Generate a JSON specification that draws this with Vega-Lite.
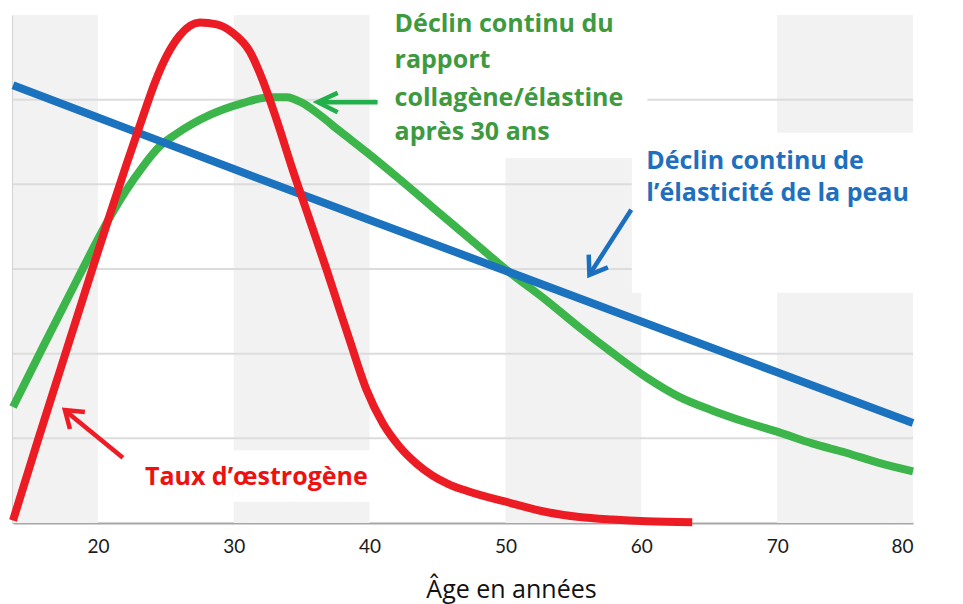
{
  "$schema": "https://vega.github.io/schema/vega-lite/v6.json",
  "width": 900,
  "height": 508,
  "autosize": {"type": "none"},
  "padding": {"left": 13, "top": 15, "right": 50, "bottom": 81},
  "background": "white",
  "config": {
    "view": {"stroke": null},
    "font": "Lato",
    "axisX": {"domainColor": "#a6a6a6", "domainWidth": 2, "ticks": false, "grid": false, "labelFont": "Lato", "labelFontSize": 19, "labelColor": "#1a1a1a", "labelPadding": 14, "titleFont": "Open Sans", "titleFontSize": 25, "titleFontWeight": "normal", "titleColor": "#111111", "titleX": 498, "titleY": 74, "titleBaseline": "alphabetic", "titleAlign": "center"},
    "axisY": {"domainColor": "#a6a6a6", "domainWidth": 2, "ticks": false, "grid": false, "labels": false}
  },
  "datasets": {
    "bands": [
      {"x0": 13.75, "x1": 20, "y0": 0, "y1": 6},
      {"x0": 30, "x1": 40, "y0": 0, "y1": 6},
      {"x0": 50, "x1": 60, "y0": 0, "y1": 6},
      {"x0": 70, "x1": 80, "y0": 0, "y1": 6}
    ],
    "grid": [{"v": 1}, {"v": 2}, {"v": 3}, {"v": 4}, {"v": 5}],
    "boxes": [
      {"x0": 40.5, "x1": 60.45, "y0": 4.31, "y1": 6},
      {"x0": 59.3, "x1": 80, "y0": 2.72, "y1": 4.61},
      {"x0": 22.5, "x1": 41.5, "y0": 0.25, "y1": 0.86}
    ],
    "curves": [
      {"series": "collagene", "age": 13.75, "value": 1.37},
      {"series": "collagene", "age": 15.96, "value": 2.08},
      {"series": "collagene", "age": 18.46, "value": 2.87},
      {"series": "collagene", "age": 20.88, "value": 3.61},
      {"series": "collagene", "age": 22.13, "value": 3.94},
      {"series": "collagene", "age": 23.31, "value": 4.21},
      {"series": "collagene", "age": 24.56, "value": 4.45},
      {"series": "collagene", "age": 25.81, "value": 4.60},
      {"series": "collagene", "age": 28.24, "value": 4.82},
      {"series": "collagene", "age": 30.66, "value": 4.96},
      {"series": "collagene", "age": 32.65, "value": 5.03},
      {"series": "collagene", "age": 33.9, "value": 5.03},
      {"series": "collagene", "age": 35.07, "value": 4.96},
      {"series": "collagene", "age": 36.32, "value": 4.82},
      {"series": "collagene", "age": 37.79, "value": 4.63},
      {"series": "collagene", "age": 39.78, "value": 4.38},
      {"series": "collagene", "age": 42.21, "value": 4.06},
      {"series": "collagene", "age": 44.63, "value": 3.73},
      {"series": "collagene", "age": 48.09, "value": 3.26},
      {"series": "collagene", "age": 50.07, "value": 2.99},
      {"series": "collagene", "age": 53.01, "value": 2.63},
      {"series": "collagene", "age": 55.44, "value": 2.31},
      {"series": "collagene", "age": 57.87, "value": 2.01},
      {"series": "collagene", "age": 60.37, "value": 1.72},
      {"series": "collagene", "age": 62.79, "value": 1.49},
      {"series": "collagene", "age": 65.22, "value": 1.33},
      {"series": "collagene", "age": 67.72, "value": 1.19},
      {"series": "collagene", "age": 70.15, "value": 1.07},
      {"series": "collagene", "age": 72.57, "value": 0.94},
      {"series": "collagene", "age": 75.07, "value": 0.83},
      {"series": "collagene", "age": 77.5, "value": 0.71},
      {"series": "collagene", "age": 80, "value": 0.61},
      {"series": "elasticite", "age": 13.75, "value": 5.17},
      {"series": "elasticite", "age": 20, "value": 4.79},
      {"series": "elasticite", "age": 30, "value": 4.18},
      {"series": "elasticite", "age": 40, "value": 3.58},
      {"series": "elasticite", "age": 50, "value": 2.98},
      {"series": "elasticite", "age": 60, "value": 2.38},
      {"series": "elasticite", "age": 70, "value": 1.78},
      {"series": "elasticite", "age": 80, "value": 1.18},
      {"series": "oestrogene", "age": 13.75, "value": 0.03},
      {"series": "oestrogene", "age": 15.59, "value": 0.98},
      {"series": "oestrogene", "age": 17.21, "value": 1.80},
      {"series": "oestrogene", "age": 18.46, "value": 2.43},
      {"series": "oestrogene", "age": 19.63, "value": 3.02},
      {"series": "oestrogene", "age": 20.88, "value": 3.64},
      {"series": "oestrogene", "age": 22.13, "value": 4.25},
      {"series": "oestrogene", "age": 23.31, "value": 4.80},
      {"series": "oestrogene", "age": 24.19, "value": 5.20},
      {"series": "oestrogene", "age": 25.07, "value": 5.52},
      {"series": "oestrogene", "age": 26.03, "value": 5.76},
      {"series": "oestrogene", "age": 27.5, "value": 5.91},
      {"series": "oestrogene", "age": 28.75, "value": 5.89},
      {"series": "oestrogene", "age": 29.93, "value": 5.79},
      {"series": "oestrogene", "age": 31.18, "value": 5.57},
      {"series": "oestrogene", "age": 32.13, "value": 5.23},
      {"series": "oestrogene", "age": 33.16, "value": 4.76},
      {"series": "oestrogene", "age": 34.34, "value": 4.17},
      {"series": "oestrogene", "age": 35.59, "value": 3.58},
      {"series": "oestrogene", "age": 36.84, "value": 2.99},
      {"series": "oestrogene", "age": 37.79, "value": 2.52},
      {"series": "oestrogene", "age": 38.53, "value": 2.16},
      {"series": "oestrogene", "age": 39.78, "value": 1.57},
      {"series": "oestrogene", "age": 40.96, "value": 1.18},
      {"series": "oestrogene", "age": 42.21, "value": 0.90},
      {"series": "oestrogene", "age": 43.46, "value": 0.70},
      {"series": "oestrogene", "age": 44.63, "value": 0.56},
      {"series": "oestrogene", "age": 45.8, "value": 0.46},
      {"series": "oestrogene", "age": 47.13, "value": 0.38},
      {"series": "oestrogene", "age": 50.51, "value": 0.23},
      {"series": "oestrogene", "age": 53.01, "value": 0.13},
      {"series": "oestrogene", "age": 55.44, "value": 0.07},
      {"series": "oestrogene", "age": 57.87, "value": 0.04},
      {"series": "oestrogene", "age": 60.37, "value": 0.02},
      {"series": "oestrogene", "age": 63.75, "value": 0.01}
    ],
    "arrows": [
      {"series": "collagene", "part": "g-shaft", "seq": 1, "age": 40.59, "value": 4.97},
      {"series": "collagene", "part": "g-shaft", "seq": 2, "age": 36.3, "value": 4.97},
      {"series": "collagene", "part": "g-head", "seq": 1, "age": 37.65, "value": 5.08},
      {"series": "collagene", "part": "g-head", "seq": 2, "age": 36.18, "value": 4.97},
      {"series": "collagene", "part": "g-head", "seq": 3, "age": 37.65, "value": 4.85},
      {"series": "elasticite", "part": "b-shaft", "seq": 1, "age": 59.26, "value": 3.70},
      {"series": "elasticite", "part": "b-shaft", "seq": 2, "age": 56.25, "value": 2.95},
      {"series": "elasticite", "part": "b-head", "seq": 1, "age": 56.13, "value": 3.17},
      {"series": "elasticite", "part": "b-head", "seq": 2, "age": 56.18, "value": 2.93},
      {"series": "elasticite", "part": "b-head", "seq": 3, "age": 57.54, "value": 3.02},
      {"series": "oestrogene", "part": "r-shaft", "seq": 1, "age": 21.84, "value": 0.77},
      {"series": "oestrogene", "part": "r-shaft", "seq": 2, "age": 17.65, "value": 1.32},
      {"series": "oestrogene", "part": "r-head", "seq": 1, "age": 17.94, "value": 1.11},
      {"series": "oestrogene", "part": "r-head", "seq": 2, "age": 17.57, "value": 1.335},
      {"series": "oestrogene", "part": "r-head", "seq": 3, "age": 19.04, "value": 1.31}
    ],
    "labels": [
      {"series": "collagene", "text": "Déclin continu du", "age": 41.84, "value": 5.80},
      {"series": "collagene", "text": "rapport", "age": 41.84, "value": 5.37},
      {"series": "collagene", "text": "collagène/élastine", "age": 41.84, "value": 4.925},
      {"series": "collagene", "text": "après 30 ans", "age": 41.84, "value": 4.52},
      {"series": "elasticite", "text": "Déclin continu de", "age": 60.37, "value": 4.18},
      {"series": "elasticite", "text": "l’élasticité de la peau", "age": 60.37, "value": 3.80},
      {"series": "oestrogene", "text": "Taux d’œstrogène", "age": 23.46, "value": 0.45}
    ]
  },
  "layer": [
    {
      "data": {"name": "bands"},
      "mark": {"type": "rect", "color": "#f2f2f2"},
      "encoding": {
        "x": {"field": "x0", "type": "quantitative", "scale": {"domain": [13.75, 80], "nice": false, "zero": false}, "axis": {"values": [20, 30, 40, 50, 60, 70, 80], "title": "Âge en années"}},
        "x2": {"field": "x1"},
        "y": {"field": "y0", "type": "quantitative", "scale": {"domain": [0, 6], "nice": false, "zero": false}, "axis": {"title": null}},
        "y2": {"field": "y1"}
      }
    },
    {
      "data": {"name": "grid"},
      "mark": {"type": "rule", "color": "#dcdcdc", "strokeWidth": 2},
      "encoding": {
        "y": {"field": "v", "type": "quantitative"}
      }
    },
    {
      "data": {"name": "boxes"},
      "mark": {"type": "rect", "color": "white"},
      "encoding": {
        "x": {"field": "x0", "type": "quantitative"},
        "x2": {"field": "x1"},
        "y": {"field": "y0", "type": "quantitative"},
        "y2": {"field": "y1"}
      }
    },
    {
      "data": {"name": "arrows"},
      "mark": {"type": "line", "strokeWidth": 4.5, "strokeCap": "butt", "strokeJoin": "miter"},
      "encoding": {
        "x": {"field": "age", "type": "quantitative"},
        "y": {"field": "value", "type": "quantitative"},
        "detail": {"field": "part"},
        "order": {"field": "seq", "type": "quantitative"},
        "color": {"field": "series", "type": "nominal", "scale": {"domain": ["collagene", "elasticite", "oestrogene"], "range": ["#22b04b", "#1a6fbe", "#ee1c24"]}, "legend": null}
      }
    },
    {
      "data": {"name": "curves"},
      "mark": {"type": "line", "strokeWidth": 8, "interpolate": "monotone", "strokeCap": "butt"},
      "encoding": {
        "x": {"field": "age", "type": "quantitative"},
        "y": {"field": "value", "type": "quantitative"},
        "color": {"field": "series", "type": "nominal", "scale": {"domain": ["collagene", "elasticite", "oestrogene"], "range": ["#3cb54a", "#1b72be", "#ec1c24"]}, "legend": null}
      }
    },
    {
      "data": {"name": "labels"},
      "mark": {"type": "text", "align": "left", "baseline": "alphabetic", "font": "Open Sans", "fontWeight": "bold", "fontSize": 25},
      "encoding": {
        "x": {"field": "age", "type": "quantitative"},
        "y": {"field": "value", "type": "quantitative"},
        "text": {"field": "text"},
        "color": {"field": "series", "type": "nominal", "scale": {"domain": ["collagene", "elasticite", "oestrogene"], "range": ["#3d9a3f", "#1f6fbf", "#ee1111"]}, "legend": null}
      }
    }
  ],
  "resolve": {"scale": {"color": "independent"}}
}
